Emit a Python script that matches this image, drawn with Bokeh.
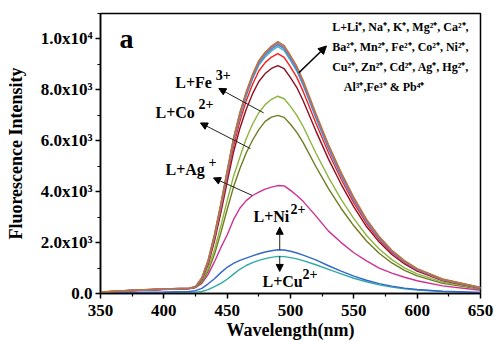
from bokeh.plotting import figure
from bokeh.models import Range1d, FixedTicker, Label, Arrow, NormalHead
from bokeh.embed import file_html
from bokeh.resources import INLINE

# ---------------- data ----------------
wavelength = [350, 375, 400, 420, 425, 430, 435, 440, 445, 450, 455, 460, 465, 470,
              475, 480, 485, 490, 495, 500, 505, 510, 520, 530, 540, 550, 560, 570,
              580, 590, 600, 620, 650]

brown = [60, 130, 180, 210, 270, 620, 1320, 2330, 3530, 4830, 6100, 7100, 7920, 8600,
         9150, 9480, 9720, 9900, 9740, 9350, 8930, 8380, 7080, 5850, 4760, 3780, 2920, 2240,
         1700, 1290, 980, 570, 240]
purple = [55, 125, 175, 205, 265, 600, 1300, 2300, 3500, 4800, 6080, 7080, 7900, 8580,
          9130, 9460, 9700, 9880, 9720, 9320, 8890, 8330, 7020, 5790, 4700, 3720, 2870, 2200,
          1660, 1260, 950, 550, 230]
gray = [58, 128, 178, 208, 268, 610, 1290, 2280, 3470, 4760, 6040, 7040, 7860, 8540,
        9090, 9420, 9660, 9830, 9680, 9290, 8870, 8310, 7010, 5790, 4710, 3740, 2890, 2220,
        1690, 1280, 970, 560, 235]
blue_hi = [52, 122, 172, 202, 260, 590, 1270, 2260, 3440, 4720, 6000, 6990, 7810, 8490,
           9040, 9370, 9610, 9780, 9620, 9230, 8800, 8240, 6950, 5730, 4650, 3690, 2850, 2180,
           1650, 1250, 940, 545, 225]
cyan = [50, 120, 170, 200, 255, 580, 1250, 2230, 3400, 4670, 5940, 6930, 7750, 8420,
        8970, 9290, 9530, 9700, 9540, 9150, 8730, 8170, 6890, 5680, 4610, 3660, 2820, 2160,
        1640, 1240, 935, 540, 222]
red = [50, 118, 168, 198, 250, 560, 1200, 2150, 3300, 4550, 5780, 6760, 7560, 8210,
       8740, 9070, 9290, 9420, 9280, 8900, 8490, 7940, 6700, 5530, 4490, 3560, 2750, 2110,
       1600, 1210, 915, 530, 218]
dark_red = [48, 115, 165, 195, 245, 540, 1150, 2060, 3170, 4380, 5550, 6480, 7230, 7840,
            8330, 8640, 8840, 8950, 8830, 8480, 8090, 7570, 6390, 5280, 4290, 3400, 2630, 2020,
            1530, 1160, 880, 510, 210]
fe3 = [55, 125, 175, 205, 250, 480, 980, 1720, 2650, 3650, 4600, 5350, 6080, 6650,
       7100, 7420, 7630, 7750, 7650, 7350, 7000, 6560, 5520, 4560, 3700, 2940, 2280, 1750,
       1330, 1010, 770, 450, 190]
co2 = [50, 118, 168, 198, 240, 440, 880, 1540, 2380, 3300, 4180, 4900, 5520, 6020,
       6440, 6760, 6930, 7000, 6920, 6650, 6330, 5930, 4990, 4120, 3340, 2660, 2060, 1580,
       1200, 910, 690, 400, 170]
ag = [45, 110, 160, 190, 230, 400, 750, 1250, 1800, 2300, 2900, 3350, 3650, 3850,
      3980, 4100, 4180, 4240, 4230, 4050, 3850, 3620, 3050, 2450, 2000, 1600, 1280, 1000,
      800, 640, 500, 300, 130]
ni2 = [20, 45, 60, 80, 110, 200, 380, 580, 820, 1030, 1180, 1300, 1390, 1480,
       1560, 1630, 1680, 1720, 1710, 1660, 1590, 1510, 1320, 1090, 880, 680, 520, 390,
       290, 210, 160, 90, 40]
cu2 = [10, 22, 30, 40, 50, 80, 150, 270, 400, 560, 760, 950, 1100, 1210,
       1300, 1370, 1420, 1460, 1450, 1410, 1360, 1290, 1130, 950, 770, 600, 460, 340,
       250, 185, 140, 80, 35]

series_names = ["cu2", "ni2", "ag", "co2", "fe3", "dark_red", "red", "cyan", "blue_hi", "gray", "purple", "brown"]
series_values = [cu2, ni2, ag, co2, fe3, dark_red, red, cyan, blue_hi, gray, purple, brown]
series_colors = ["#2fa9a6", "#3566c9", "#cf3191", "#6f7b22", "#8cb53d", "#8d0f1f",
                 "#ff1a1a", "#47b3c8", "#4a78d4", "#8c8c8c", "#9a6fd6", "#c0732e"]

x_ticks = [350, 400, 450, 500, 550, 600, 650]
x_minor_ticks = [375, 425, 475, 525, 575, 625]
y_ticks = [0, 2000, 4000, 6000, 8000, 10000]
y_tick_labels = ["0.0", "2.0x10³", "4.0x10³", "6.0x10³", "8.0x10³", "1.0x10⁴"]
y_minor_ticks = [1000, 3000, 5000, 7000, 9000, 11000]

# ---------------- figure ----------------
FONT = "Liberation Serif"

p = figure(width=494, height=342, x_range=Range1d(350, 650), y_range=Range1d(0, 11000),
           output_backend="svg", toolbar_location=None,
           min_border_left=100, min_border_right=14, min_border_top=13, min_border_bottom=49)
p.grid.visible = False
p.background_fill_color = "white"
p.border_fill_color = "white"
p.outline_line_color = "black"
p.outline_line_width = 1.5

p.xaxis.ticker = FixedTicker(ticks=x_ticks, minor_ticks=x_minor_ticks)
p.yaxis.ticker = FixedTicker(ticks=y_ticks, minor_ticks=y_minor_ticks)
p.yaxis.major_label_overrides = {t: s for t, s in zip(y_ticks, y_tick_labels)}

for ax in (p.xaxis[0], p.yaxis[0]):
    ax.axis_line_color = "black"
    ax.axis_line_width = 1.5
    ax.major_tick_line_color = "black"
    ax.major_tick_line_width = 1.5
    ax.minor_tick_line_color = "black"
    ax.minor_tick_line_width = 1.2
    ax.major_tick_in = 0
    ax.major_tick_out = 5
    ax.minor_tick_in = 0
    ax.minor_tick_out = 3
    ax.major_label_text_font = FONT
    ax.major_label_text_font_style = "bold"
    ax.major_label_text_font_size = "17px"
    ax.major_label_text_color = "black"
    ax.axis_label_text_font = FONT
    ax.axis_label_text_font_style = "bold"
    ax.axis_label_text_font_size = "18px"
    ax.axis_label_text_color = "black"

p.xaxis.axis_label = "Wavelength(nm)"
p.yaxis.axis_label = "Fluorescence Intensity"
p.xaxis.major_label_standoff = 6
p.xaxis.axis_label_standoff = 1
p.yaxis.major_label_standoff = 3
p.yaxis.axis_label_standoff = 12

for name, vals, col in zip(series_names, series_values, series_colors):
    p.line(wavelength, vals, line_color=col, line_width=1.4)

# ---------------- annotations ----------------
def lab(x, y, text, size, align="left"):
    p.add_layout(Label(x=x, y=y, text=text, text_font=FONT, text_font_style="bold",
                       text_font_size=size, text_color="black", text_align=align,
                       text_baseline="alphabetic"))

lab(365, 10000, "a", "28px")

lab(409, 8290, "L+Fe", "16px")
lab(441, 8600, "3+", "14px")
lab(393.4, 7100, "L+Co", "16px")
lab(427.4, 7450, "2+", "14px")
lab(401.3, 4860, "L+Ag", "16px")
lab(435.3, 5160, "+", "14px")
lab(470.8, 3040, "L+Ni", "16px")
lab(500, 3310, "2+", "14px")
lab(477.9, 480, "L+Cu", "16px")
lab(509.5, 780, "2+", "14px")

legend_lines = ["L+Li⁺, Na⁺, K⁺, Mg²⁺, Ca²⁺,",
                "Ba²⁺, Mn²⁺, Fe²⁺, Co²⁺, Ni²⁺,",
                "Cu²⁺, Zn²⁺, Cd²⁺, Ag⁺, Hg²⁺,",
                "Al³⁺,Fe³⁺ & Pb⁴⁺"]
legend_x = [532.9, 532.9, 532.9, 542.1]
legend_y = [10475, 9686, 8898, 8110]
for t, lx, ly in zip(legend_lines, legend_x, legend_y):
    lab(lx, ly, t, "12px")

def arrow(x0, y0, x1, y1, w=1.0, color="#222222", size=7):
    p.add_layout(Arrow(end=NormalHead(size=size, fill_color="black", line_color="black"),
                       x_start=x0, y_start=y0, x_end=x1, y_end=y1,
                       line_color=color, line_width=w))

arrow(478.8, 7095, 443.4, 8057)
arrow(468.4, 5692, 428.9, 6701)
arrow(469.8, 3851, 439.2, 4541)
arrow(491.5, 1722, 491.5, 2601)
arrow(491.5, 1460, 491.5, 867)
arrow(506.6, 8672, 528.4, 9724, w=1.6, color="black", size=8)

open("out.html", "w").write(file_html(p, INLINE))
